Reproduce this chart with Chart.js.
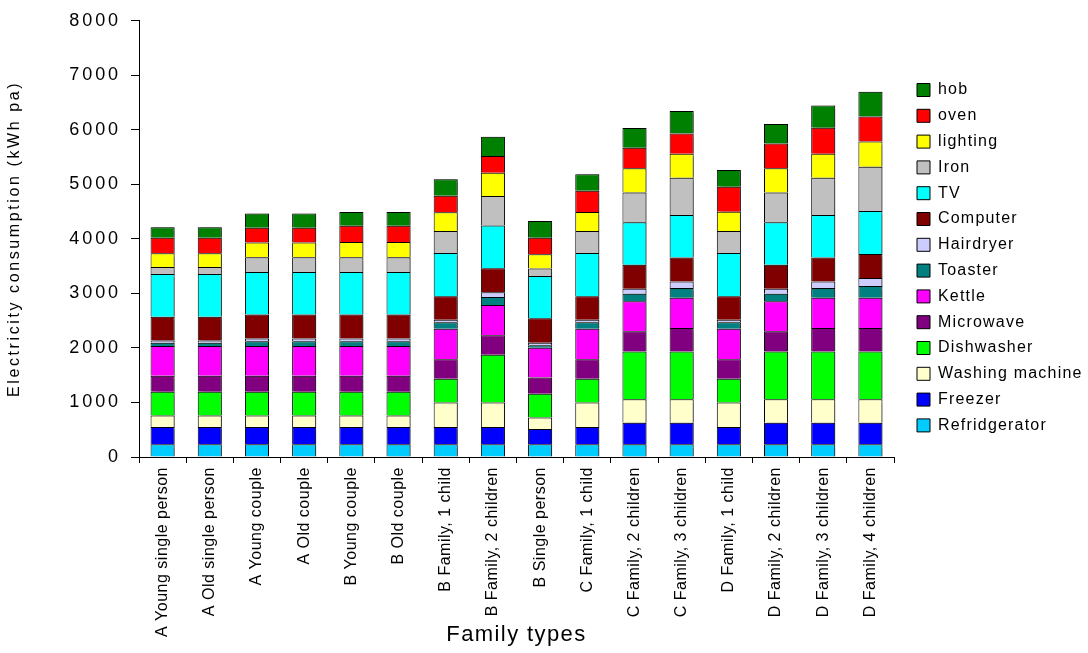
<!DOCTYPE html>
<html>
<head>
<meta charset="utf-8">
<script src="https://cdn.jsdelivr.net/npm/chart.js@4.4.1/dist/chart.umd.min.js"></script>
<style>
  html, body { margin: 0; padding: 0; background: #ffffff; }
  #wrap { width: 1088px; height: 653px; position: relative; }
</style>
</head>
<body>
<div id="wrap"><canvas id="chart" width="1088" height="653"></canvas></div>
<script>
// Household types along the x axis
const categories = [
  'A Young single person', 'A Old single person', 'A Young couple', 'A Old couple',
  'B Young couple', 'B Old couple', 'B Family, 1 child', 'B Family, 2 children',
  'B Single person', 'C Family, 1 child', 'C Family, 2 children', 'C Family, 3 children',
  'D Family, 1 child', 'D Family, 2 children', 'D Family, 3 children', 'D Family, 4 children'
];

// Annual consumption per appliance (kWh pa), one value per household type
const refrigerator   = [235, 235, 235, 235, 235, 235, 235, 235, 235, 235, 235, 235, 235, 235, 235, 235];
const freezer        = [315, 315, 315, 315, 315, 315, 315, 315, 280, 315, 395, 395, 315, 395, 395, 395];
const washingMachine = [210, 210, 210, 210, 210, 210, 450, 450, 210, 450, 430, 430, 450, 430, 430, 430];
const dishwasher     = [435, 435, 435, 435, 435, 435, 435, 875, 435, 435, 875, 875, 435, 875, 875, 875];
const microwave      = [295, 295, 295, 295, 295, 295, 360, 360, 300, 360, 370, 430, 360, 370, 430, 430];
const kettle         = [545, 545, 545, 545, 545, 545, 555, 555, 545, 555, 550, 555, 555, 550, 555, 555];
const toaster        = [60, 60, 90, 90, 90, 90, 120, 145, 45, 120, 140, 180, 120, 140, 180, 215];
const hairdryer      = [40, 40, 50, 50, 50, 50, 45, 85, 45, 45, 90, 120, 45, 90, 120, 150];
const computer       = [435, 435, 440, 440, 440, 440, 435, 440, 450, 435, 440, 440, 435, 440, 440, 440];
const tv             = [785, 785, 780, 780, 780, 780, 790, 785, 775, 790, 780, 780, 790, 780, 780, 785];
const iron           = [130, 130, 270, 270, 270, 270, 405, 540, 135, 405, 545, 680, 405, 545, 680, 815];
const lighting       = [250, 250, 270, 270, 280, 280, 345, 430, 265, 350, 445, 440, 355, 445, 440, 460];
const oven           = [285, 285, 270, 270, 295, 295, 300, 305, 300, 390, 375, 375, 455, 455, 480, 460];
const hob            = [195, 195, 260, 260, 255, 255, 305, 355, 310, 300, 365, 410, 310, 355, 405, 455];

// Y axis ticks
const yMin = 0;
const yMax = 8000;
const yStep = 1000;

const FONT = "'Liberation Sans', Arial, Helvetica, sans-serif";

// Layout of the plot area inside the 1088x653 canvas
const PLOT_LEFT = 139;
const PLOT_TOP = 16;
const PLOT_BOTTOM = 457;
const LEGEND_WIDTH = 194;
const LEGEND_BOX_X = 917;
const LEGEND_FIRST_ROW_Y = 82;

function withSpacing(ctx, spacing, fn) {
  ctx.save();
  ctx.letterSpacing = spacing;
  fn();
  ctx.restore();
}

// Scales that draw their text with a little extra tracking
class SpacedLinearScale extends Chart.LinearScale {
  static id = 'spacedLinear';
  drawLabels(area) { withSpacing(this.ctx, '2.9px', () => super.drawLabels(area)); }
  drawTitle() { withSpacing(this.ctx, '2.6px', () => super.drawTitle()); }
}
class SpacedCategoryScale extends Chart.CategoryScale {
  static id = 'spacedCategory';
  drawLabels(area) { withSpacing(this.ctx, '0.5px', () => super.drawLabels(area)); }
  drawTitle() { withSpacing(this.ctx, '1.4px', () => super.drawTitle()); }
}
Chart.register(SpacedLinearScale, SpacedCategoryScale);

// Legend: fixed width, tracked text and placement next to the plot
const legendPlacement = {
  id: 'legendPlacement',
  beforeUpdate(chart) {
    const lg = chart.legend;
    if (!lg || lg._placed) return;
    lg._placed = true;
    const fit = lg.fit.bind(lg);
    const draw = lg.draw.bind(lg);
    lg.fit = function () {
      withSpacing(this.ctx, '1.2px', fit);
      this.width = LEGEND_WIDTH;
    };
    lg.draw = function () {
      const pad = this.options.labels.padding;
      const ctx = this.ctx;
      ctx.save();
      ctx.letterSpacing = '1.2px';
      ctx.translate(LEGEND_BOX_X - (this.left + pad), LEGEND_FIRST_ROW_Y - (this.top + pad));
      draw();
      ctx.restore();
    };
  }
};

// Soft drop shadow to the right of the bars
const barShadow = {
  id: 'barShadow',
  beforeDatasetsDraw(chart) {
    const ctx = chart.ctx;
    ctx.save();
    ctx.shadowColor = 'rgba(0,0,0,0.3)';
    ctx.shadowOffsetX = 2;
    ctx.shadowOffsetY = 0;
    ctx.shadowBlur = 1;
  },
  afterDatasetsDraw(chart) {
    chart.ctx.restore();
  }
};

function series(label, data, color) {
  return {
    label, data,
    backgroundColor: color,
    borderColor: '#000000',
    borderWidth: 1,
    categoryPercentage: 1.0,
    barPercentage: 0.51
  };
}

const datasets = [
  series('Refridgerator', refrigerator, '#00CCFF'),
  series('Freezer', freezer, '#0000FF'),
  series('Washing machine', washingMachine, '#FFFFCC'),
  series('Dishwasher', dishwasher, '#00FF00'),
  series('Microwave', microwave, '#800080'),
  series('Kettle', kettle, '#FF00FF'),
  series('Toaster', toaster, '#008080'),
  series('Hairdryer', hairdryer, '#CCCCFF'),
  series('Computer', computer, '#800000'),
  series('TV', tv, '#00FFFF'),
  series('Iron', iron, '#C0C0C0'),
  series('lighting', lighting, '#FFFF00'),
  series('oven', oven, '#FF0000'),
  series('hob', hob, '#008000')
];

new Chart(document.getElementById('chart'), {
  type: 'bar',
  data: { labels: categories, datasets },
  plugins: [legendPlacement, barShadow],
  options: {
    responsive: false,
    animation: false,
    devicePixelRatio: 1,
    layout: { padding: { left: 0, top: PLOT_TOP, right: 0, bottom: 0 } },
    plugins: {
      tooltip: { enabled: false },
      legend: {
        position: 'right',
        align: 'start',
        reverse: true,
        labels: {
          boxWidth: 13,
          boxHeight: 13,
          padding: 9.8,
          color: '#000000',
          font: { family: FONT, size: 16 }
        }
      }
    },
    scales: {
      x: {
        type: 'spacedCategory',
        stacked: true,
        offset: true,
        border: { display: true, color: '#000000', width: 1 },
        grid: { offset: true, drawOnChartArea: false, drawTicks: true, tickLength: 6, color: '#000000' },
        ticks: {
          autoSkip: false,
          maxRotation: 90,
          minRotation: 90,
          padding: 4,
          color: '#000000',
          font: { family: FONT, size: 16 }
        },
        title: {
          display: true,
          text: 'Family types',
          color: '#000000',
          font: { family: FONT, size: 22 },
          padding: { top: 0, bottom: 5 }
        },
        afterFit(scale) { scale.height = 653 - PLOT_BOTTOM; }
      },
      y: {
        type: 'spacedLinear',
        stacked: true,
        min: yMin,
        max: yMax,
        border: { display: true, color: '#000000', width: 1 },
        grid: { drawOnChartArea: false, drawTicks: true, tickLength: 8, color: '#000000' },
        ticks: {
          stepSize: yStep,
          padding: 10,
          color: '#000000',
          font: { family: FONT, size: 18 },
          callback: (v) => String(v)
        },
        title: {
          display: true,
          text: 'Electricity consumption (kWh pa)',
          color: '#000000',
          font: { family: FONT, size: 16 },
          padding: { top: 5.4, bottom: 0 }
        },
        afterFit(scale) { scale.width = PLOT_LEFT; }
      }
    }
  }
});
</script>
</body>
</html>
